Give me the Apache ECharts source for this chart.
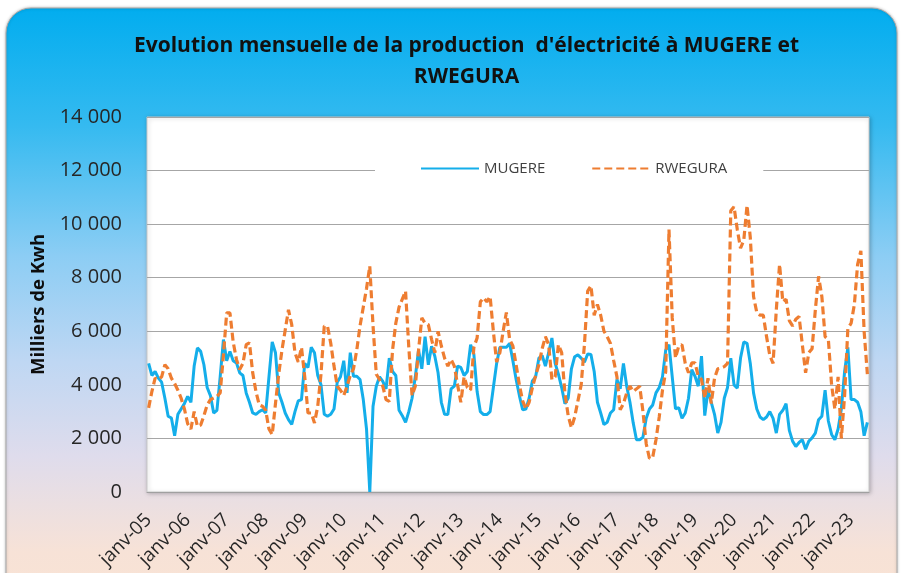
<!DOCTYPE html>
<html><head><meta charset="utf-8">
<script src="https://cdn.jsdelivr.net/npm/echarts@6/dist/echarts.min.js"></script>
<style>html,body{margin:0;padding:0;background:#fff;}#c{width:905px;height:573px;}</style>
</head><body><div id="c"></div>
<script>
const monthNames = ['janv','févr','mars','avr','mai','juin','juil','août','sept','oct','nov','déc'];
const startYear = 2005;
const yTicks = [0, 2000, 4000, 6000, 8000, 10000, 12000, 14000];

const mugere = [
4800,4350,4500,4250,4100,3500,2830,2760,2100,2900,
3100,3300,3570,3350,4700,5380,5250,4750,3900,3600,
2950,3050,4300,5690,4900,5250,4900,4820,4450,4350,
3700,3350,2950,2900,3000,3070,2950,4300,5600,5200,
3700,3350,2950,2700,2520,3000,3400,3450,4800,4650,
5400,5200,4350,4000,2900,2830,2900,3100,4100,4300,
4900,3700,5200,4320,4320,4200,3450,2350,0,3200,
3950,4300,4130,3850,5000,4500,4350,3050,2850,2600,
3000,3500,4300,5300,4600,5800,4750,5440,5070,4450,
3350,2900,2890,3850,3950,4700,4650,4350,4500,5500,
5150,3750,3000,2890,2890,3000,3900,4800,5400,5400,
5400,5550,4900,4200,3600,3070,3100,3500,4150,4300,
5000,5100,4700,5200,5750,4800,4400,3900,3300,3500,
4600,5050,5120,5000,4850,5150,5130,4500,3350,2950,
2520,2600,2950,3070,4200,3850,4800,3950,3350,2580,
1950,1950,2050,2750,3100,3250,3700,3900,4300,5300,
5500,4300,3100,3150,2750,2950,3500,4570,4320,3950,
5070,2850,3800,3350,2900,2200,2600,3500,3900,5000,
4000,3880,5000,5600,5550,4800,3700,3100,2800,2700,
2800,3000,2750,2200,2900,3050,3300,2300,1900,1700,
1850,1950,1600,1900,2020,2200,2700,2830,3800,2650,
2150,1950,2350,3100,4500,5400,3450,3450,3350,3000,
2100,2600
];

const rwegura = [
3140,3750,4250,4200,4300,4750,4600,4250,4050,3800,
3500,3100,2550,2350,3000,2450,2500,2850,3250,3450,
3510,3570,3700,5100,6690,6690,5600,4950,4570,4800,
5500,5570,4450,3750,3250,3200,3050,2350,2140,3300,
4400,5300,6050,6800,6250,5200,4850,5400,4300,2950,
2950,2580,3200,4400,6190,6190,5550,4700,3950,3800,
3600,3950,4350,4600,5300,6200,6900,7600,8430,6200,
4400,4200,3950,3450,3380,5300,6300,6900,7200,7500,
5400,3600,3950,5300,6500,6300,6250,5700,5200,6000,
5450,5000,4700,4950,4700,4000,3350,4300,3900,3800,
5400,5750,7100,7250,7100,7300,6000,4850,5200,6000,
6700,5700,5450,4750,4000,3400,3100,3350,3900,4350,
4750,5350,5800,5500,4200,4300,5500,5200,3700,2850,
2400,2800,3400,4000,5500,7500,7700,6600,7000,6600,
6000,5800,5550,4900,4300,3070,3300,3700,3950,3750,
3850,3950,3000,1800,1250,1300,1950,2800,3800,4500,
9800,6500,5000,5450,5500,4800,4450,4820,4820,4320,
4200,3500,4250,3300,4250,4600,4630,4680,4800,10500,
10650,9800,9100,9400,10700,9500,7300,6700,6600,6600,
5800,5100,4800,6800,8500,7100,7200,6400,6200,6450,
6550,5500,4450,5200,5350,6800,8050,7300,5800,5700,
4000,3100,4300,2000,3600,6100,6300,7000,8500,9000,
6000,4400
];

const categories = mugere.map(function (v, i) {
  const y = startYear + Math.floor(i / 12);
  return monthNames[i % 12] + '-' + String(y % 100).padStart(2, '0');
});

function fmtThousands(v) {
  if (v < 1000) return String(v);
  return Math.floor(v / 1000) + ' ' + String(v % 1000).padStart(3, '0');
}

const chart = echarts.init(document.getElementById('c'), null, { renderer: 'canvas' });
chart.setOption({
  animation: false,
  backgroundColor: '#ffffff',
  graphic: [{
    type: 'rect', z: -10, zlevel: 0, silent: true,
    shape: { x: 6, y: 8, width: 891, height: 590, r: 25 },
    style: {
      fill: new echarts.graphic.LinearGradient(0, 0, 0, 1, [
        { offset: 0, color: '#02adef' },
        { offset: 0.2, color: '#35baf0' },
        { offset: 0.42, color: '#8ccdf4' },
        { offset: 0.6, color: '#bfd7f3' },
        { offset: 0.76, color: '#dfdcec' },
        { offset: 0.92, color: '#f7e2d7' },
        { offset: 1, color: '#f9e3d4' }
      ]),
      stroke: '#a8a8a8', lineWidth: 1,
      shadowBlur: 3, shadowColor: 'rgba(0,0,0,0.25)'
    }
  }],
  title: {
    text: "Evolution mensuelle de la production  d'électricité à MUGERE et\nRWEGURA",
    left: 461.5, top: 26, textAlign: 'center',
    textStyle: {
      fontFamily: "'Open Sans', sans-serif",
      fontWeight: 'bold', fontSize: 21, lineHeight: 31, color: '#111111'
    }
  },
  legend: {
    data: ['MUGERE', 'RWEGURA'],
    left: 375, top: 153,
    backgroundColor: '#ffffff',
    padding: [8, 36, 8, 45],
    itemWidth: 58, itemHeight: 14, itemGap: 46,
    itemStyle: { opacity: 0 },
    textStyle: { fontFamily: 'Open Sans', fontSize: 15, color: '#404040' }
  },
  grid: {
    left: 147, top: 117, width: 722, height: 375,
    show: true, backgroundColor: '#ffffff',
    borderColor: '#c8c8c8', borderWidth: 1,
    shadowColor: 'rgba(0,0,0,0.25)', shadowBlur: 4, shadowOffsetX: 1, shadowOffsetY: 1
  },
  xAxis: {
    type: 'category', data: categories, boundaryGap: true,
    axisLine: { show: true, lineStyle: { color: '#a0a0a0' } },
    axisTick: { show: false },
    splitLine: { show: false },
    axisLabel: {
      interval: 11, rotate: 45, margin: 25,
      fontFamily: 'Open Sans', fontSize: 19, color: '#262626'
    }
  },
  yAxis: {
    type: 'value', min: yTicks[0], max: yTicks[yTicks.length - 1], interval: 2000,
    name: 'Milliers de Kwh', nameLocation: 'middle', nameGap: 84, nameRotate: 90,
    nameTextStyle: { fontFamily: 'Open Sans', fontWeight: 'bold', fontSize: 18.5, color: '#0d0d0d' },
    axisLine: { show: false }, axisTick: { show: false },
    axisLabel: { formatter: fmtThousands, margin: 25, fontFamily: 'Open Sans', fontSize: 20, color: '#262626' },
    splitLine: { lineStyle: { color: '#a6a6a6', width: 1 } }
  },
  series: [
    {
      name: 'MUGERE', type: 'line', data: mugere, symbol: 'none',
      lineStyle: { color: '#14aeea', width: 3 }, itemStyle: { color: '#14aeea' }
    },
    {
      name: 'RWEGURA', type: 'line', data: rwegura, symbol: 'none',
      lineStyle: { color: '#ee7d31', width: 3.2, type: [8, 4] }, itemStyle: { color: '#ee7d31' }
    }
  ]
});
</script>
</body></html>
